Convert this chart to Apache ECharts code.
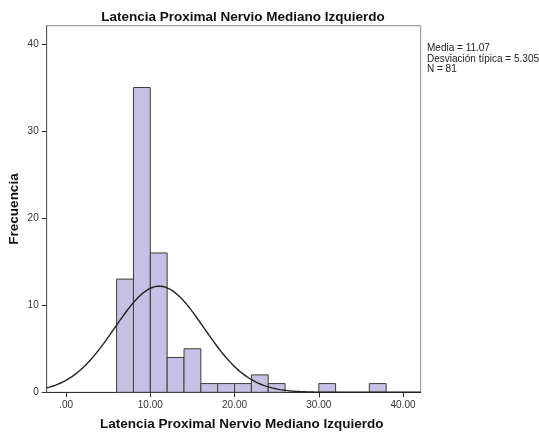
<!DOCTYPE html>
<html>
<head>
<meta charset="utf-8">
<script src="https://cdn.jsdelivr.net/npm/echarts@6/dist/echarts.min.js"></script>
<style>
  html, body { margin: 0; padding: 0; background: #fff; }
  #chart { width: 539px; height: 433px; }
</style>
</head>
<body>
<div id="chart"></div>
<script>
// Histogram bins (width 2) and their frequencies
const binStarts = [6, 8, 10, 12, 14, 16, 18, 20, 22, 24, 30, 36];
const counts    = [13, 35, 16, 4, 5, 1, 1, 1, 2, 1, 1, 1];
const binWidth = 2;

// Summary statistics shown beside the plot
const mean = 11.07;
const stdDev = 5.305;
const n = 81;

// Axis ticks
const xTicks = [0, 10, 20, 30, 40];
const yTicks = [0, 10, 20, 30, 40];

const xMin = -2.3, xMax = 42.1, yMax = 42.1;

// Fitted normal curve, scaled to counts per bin
const curve = [];
for (let i = 0; i <= 400; i++) {
  const x = xMin + (xMax - xMin) * i / 400;
  const z = (x - mean) / stdDev;
  const y = n * binWidth / (stdDev * Math.sqrt(2 * Math.PI)) * Math.exp(-0.5 * z * z);
  curve.push([x, y]);
}

const bars = binStarts.map((s, i) => [s, s + binWidth, counts[i]]);

const font = 'Liberation Sans, Arial, sans-serif';
const chart = echarts.init(document.getElementById('chart'));

chart.setOption({
  animation: false,
  backgroundColor: '#fff',
  title: {
    text: 'Latencia Proximal Nervio Mediano Izquierdo',
    left: 238, textAlign: 'center', top: 5,
    textStyle: { fontFamily: font, fontSize: 13.5, fontWeight: 'bold', color: '#111' }
  },
  grid: {
    left: 46.7, right: 118.3, top: 25.7, bottom: 40.7,
    outerBoundsMode: 'none',
    show: true, borderColor: '#8c8c8c', borderWidth: 1
  },
  xAxis: {
    type: 'value', min: xMin, max: xMax,
    name: 'Latencia Proximal Nervio Mediano Izquierdo',
    nameLocation: 'middle', nameGap: 25,
    nameTextStyle: { fontFamily: font, fontSize: 13.5, fontWeight: 'bold', color: '#111', padding: [0, 0, 0, 16] },
    splitLine: { show: false },
    axisLine: { show: true, onZero: false, lineStyle: { color: '#333', width: 1 } },
    axisTick: { show: true, customValues: xTicks, length: 5, lineStyle: { color: '#333' } },
    axisLabel: {
      customValues: xTicks, margin: 8,
      fontFamily: font, fontSize: 10, color: '#333',
      formatter: v => v === 0 ? '.00' : v.toFixed(2)
    }
  },
  yAxis: {
    type: 'value', min: 0, max: yMax,
    splitLine: { show: false },
    axisLine: { show: true, onZero: false, lineStyle: { color: '#555', width: 1 } },
    axisTick: { show: true, customValues: yTicks, length: 5, lineStyle: { color: '#333' } },
    axisLabel: {
      customValues: yTicks, margin: 8,
      fontFamily: font, fontSize: 10, color: '#333'
    }
  },
  graphic: [{
    // y-axis title, rotated
    type: 'text', x: 14, y: 209, rotation: Math.PI / 2,
    style: {
      text: 'Frecuencia', align: 'center', verticalAlign: 'middle',
      font: 'bold 13.5px ' + font, fill: '#111'
    }
  }, {
    type: 'text', left: 427, top: 43,
    style: {
      text: 'Media = ' + mean.toFixed(2) + '\nDesviación típica = ' + stdDev.toFixed(3) + '\nN = ' + n,
      font: '10px ' + font, fill: '#222', lineHeight: 10.5
    }
  }],
  series: [{
    type: 'custom',
    data: bars,
    z: 2,
    renderItem: function (params, api) {
      const p0 = api.coord([api.value(0), api.value(2)]);
      const p1 = api.coord([api.value(1), 0]);
      return {
        type: 'rect',
        shape: { x: p0[0], y: p0[1], width: p1[0] - p0[0], height: p1[1] - p0[1] },
        style: { fill: '#c6c0e4', stroke: '#3f3e33', lineWidth: 1 }
      };
    }
  }, {
    type: 'line',
    data: curve,
    z: 3,
    showSymbol: false,
    symbol: 'none',
    lineStyle: { color: '#222', width: 1.4 }
  }]
});
</script>
</body>
</html>
